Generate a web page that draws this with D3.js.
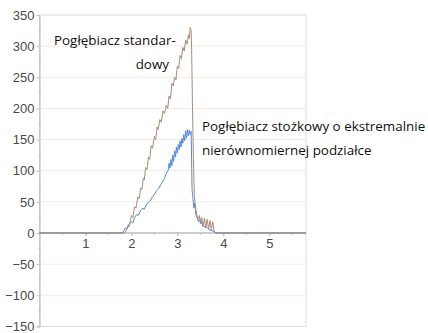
<!DOCTYPE html>
<html>
<head>
<meta charset="utf-8">
<script src="https://cdn.jsdelivr.net/npm/d3@7"></script>
<style>
  html, body { margin: 0; padding: 0; background: #fff; }
  svg { display: block; }
</style>
</head>
<body>
<svg id="chart" width="428" height="333"></svg>
<script>
// ---- data ----
const yTicks = [-150, -100, -50, 0, 50, 100, 150, 200, 250, 300, 350];
const xTicks = [1, 2, 3, 4, 5];
const xMinorTicks = [0.5, 1.5, 2.5, 3.5, 4.5, 5.5];
const yMinorTicks = [-125, -75, -25, 25, 75, 125, 175, 225, 275, 325];

const standardX = [0, 1.85, 1.88, 1.92, 1.95, 2.0, 2.03, 2.07, 2.1, 2.14, 2.17, 2.2, 2.23, 2.26, 2.28, 2.31, 2.34, 2.37, 2.4, 2.43, 2.46, 2.5, 2.53, 2.56, 2.58, 2.62, 2.65, 2.69, 2.72, 2.76, 2.79, 2.82, 2.85, 2.88, 2.91, 2.94, 2.97, 3.0, 3.03, 3.06, 3.09, 3.12, 3.15, 3.18, 3.21, 3.24, 3.26, 3.28, 3.3, 3.31, 3.33, 3.35, 3.37, 3.39, 3.42, 3.45, 3.48, 3.5, 3.53, 3.56, 3.59, 3.62, 3.65, 3.68, 3.71, 3.74, 3.77, 3.8, 3.83, 5.8];
const standardY = [0, 0, 3, 12, 10, 28, 25, 42, 40, 58, 55, 72, 70, 88, 85, 105, 102, 122, 118, 140, 136, 155, 150, 170, 166, 182, 178, 196, 192, 205, 200, 220, 215, 240, 236, 250, 246, 268, 264, 285, 280, 298, 292, 310, 303, 318, 312, 330, 325, 300, 200, 120, 60, 45, 30, 22, 28, 15, 25, 10, 24, 8, 22, 6, 20, 5, 18, 3, 0, 0];

const conicalX = [0, 1.8, 1.83, 1.87, 1.9, 1.95, 2.0, 2.03, 2.07, 2.12, 2.15, 2.2, 2.25, 2.28, 2.33, 2.38, 2.42, 2.46, 2.5, 2.55, 2.6, 2.64, 2.68, 2.72, 2.76, 2.8, 2.82, 2.84, 2.86, 2.88, 2.9, 2.92, 2.94, 2.96, 2.98, 3.0, 3.02, 3.04, 3.06, 3.08, 3.1, 3.12, 3.14, 3.16, 3.18, 3.2, 3.22, 3.24, 3.26, 3.28, 3.3, 3.31, 3.32, 3.34, 3.36, 3.38, 3.4, 3.43, 3.46, 3.5, 3.55, 3.6, 3.65, 3.7, 3.75, 3.8, 3.84, 5.8];
const conicalY = [0, 0, 3, 8, 6, 14, 18, 16, 25, 30, 28, 36, 40, 38, 46, 50, 53, 58, 62, 68, 72, 78, 82, 88, 96, 100, 112, 104, 118, 108, 125, 115, 132, 122, 138, 128, 142, 134, 148, 138, 152, 144, 158, 148, 164, 152, 166, 156, 165, 158, 163, 120, 70, 55, 40, 48, 30, 25, 18, 22, 12, 10, 8, 5, 4, 2, 0, 0];

const labelStandard = ["Pogłębiacz standar-", "dowy"];
const labelConical = ["Pogłębiacz stożkowy o ekstremalnie", "nierównomiernej podziałce"];

// ---- chart ----
const svg = d3.select("#chart");
const x = d3.scaleLinear().domain([0, 5.8]).range([39.5, 306]);
const y = d3.scaleLinear().domain([-150, 350]).range([326.4, 15]);

// grid lines
svg.append("g").selectAll("line")
  .data(yTicks.filter(v => v !== 0 && v !== -150 && v !== 350))
  .join("line")
  .attr("x1", x(0)).attr("x2", x(5.8))
  .attr("y1", d => y(d)).attr("y2", d => y(d))
  .attr("stroke", "#f6ece2").attr("stroke-width", 1);

// frame
svg.append("rect")
  .attr("x", x(0)).attr("y", y(350))
  .attr("width", x(5.8) - x(0)).attr("height", y(-150) - y(350))
  .attr("fill", "none").attr("stroke", "#dcdcdc").attr("stroke-width", 1);

const tickFont = "'Liberation Sans', Arial, sans-serif";
const tickColor = "#4a4a4a";

// y axis
const yAxis = d3.axisLeft(y).tickValues(yTicks).tickSize(3).tickPadding(2);
const gy = svg.append("g").attr("transform", `translate(${x(0)},0)`).call(yAxis);
gy.select(".domain").attr("stroke", "#b5b5b5");
gy.selectAll(".tick line").attr("stroke", "#c0c0c0");
gy.selectAll(".tick text")
  .attr("fill", tickColor)
  .style("font-family", tickFont)
  .style("font-size", "13px");
svg.append("g").selectAll("line").data(yMinorTicks).join("line")
  .attr("x1", x(0) - 1).attr("x2", x(0) + 1)
  .attr("y1", d => y(d)).attr("y2", d => y(d))
  .attr("stroke", "#c0c0c0");

// x axis at zero
const xAxis = d3.axisBottom(x).tickValues(xTicks).tickSize(3).tickPadding(3).tickFormat(d3.format("d"));
const gx = svg.append("g").attr("transform", `translate(0,${y(0)})`).call(xAxis);
gx.select(".domain").attr("stroke", "#a89a90").attr("d", `M${x(0)},0H${x(5.8)}`);
gx.selectAll(".tick line").attr("stroke", "#b8ada5");
gx.selectAll(".tick text")
  .attr("fill", tickColor)
  .style("font-family", tickFont)
  .style("font-size", "13px");
svg.append("g").selectAll("line").data(xMinorTicks).join("line")
  .attr("x1", d => x(d)).attr("x2", d => x(d))
  .attr("y1", y(0)).attr("y2", y(0) + 2)
  .attr("stroke", "#c8c0ba");

// series
const line = d3.line().x(d => x(d[0])).y(d => y(d[1]));
const stdData = standardX.map((v, i) => [v, standardY[i]]);
const conData = conicalX.map((v, i) => [v, conicalY[i]]);

svg.append("path").datum(conData)
  .attr("d", line).attr("fill", "none")
  .attr("stroke", "#5687d8").attr("stroke-width", 1).attr("stroke-linejoin", "round");
svg.append("path").datum(stdData)
  .attr("d", line).attr("fill", "none")
  .attr("stroke", "#a88c7c").attr("stroke-width", 1).attr("stroke-linejoin", "round");

// labels
const labelFont = "'Open Sans', sans-serif";
const t1 = svg.append("g").style("font-family", labelFont).style("font-size", "13.4px").attr("fill", "#111");
t1.append("text").attr("x", 54).attr("y", 44.5).text(labelStandard[0]);
t1.append("text").attr("x", 169).attr("y", 68.5).attr("text-anchor", "end").text(labelStandard[1]);
t1.append("text").attr("x", 202).attr("y", 131).text(labelConical[0]);
t1.append("text").attr("x", 202).attr("y", 155).text(labelConical[1]);
</script>
</body>
</html>
